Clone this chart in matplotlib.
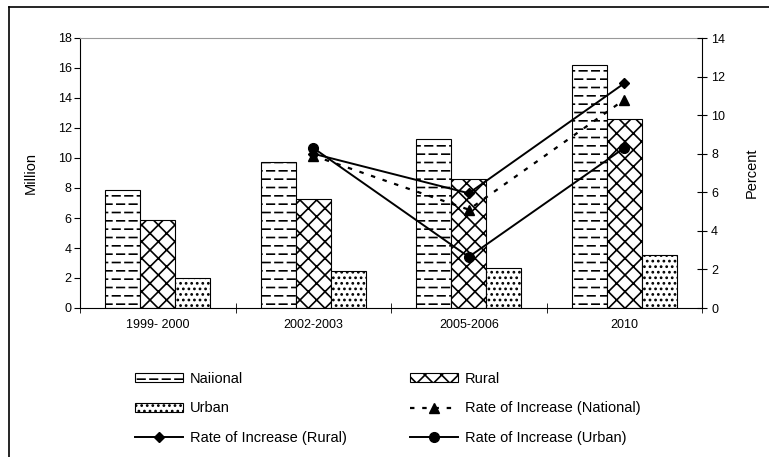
import numpy as np
import matplotlib
matplotlib.use('Agg')
import matplotlib.pyplot as plt
from matplotlib import hatch as mhatch
from matplotlib.path import Path
from matplotlib.lines import Line2D

plt.rcParams['font.family'] = ['Liberation Sans', 'DejaVu Sans']
plt.rcParams['font.size'] = 9
plt.rcParams['hatch.linewidth'] = 1.2


class DashHatch(mhatch.HatchPatternBase):
    """staggered short horizontal dashes, used for '-'"""
    def __init__(self, hatch, density):
        n = hatch.count('-')
        self.rows = 12 if n else 0
        self.cols = 8
        self.num_vertices = self.rows * self.cols * 2

    def set_vertices_and_codes(self, vertices, codes):
        k = 0
        for i in range(self.rows):
            y = (i + 0.5) / self.rows
            off = 0.0 if i % 2 == 0 else 0.35
            for j in range(self.cols):
                x0 = (j + off) / self.cols
                vertices[k] = (x0, y)
                vertices[k + 1] = (x0 + 0.6 / self.cols, y)
                codes[k] = Path.MOVETO
                codes[k + 1] = Path.LINETO
                k += 2


mhatch._hatch_types[0] = DashHatch

# data
categories = ['1999- 2000', '2002-2003', '2005-2006', '2010']
national = [7.9, 9.75, 11.3, 16.2]
rural = [5.85, 7.3, 8.6, 12.6]
urban = [2.0, 2.5, 2.7, 3.55]

rate_national = [7.9, 5.1, 10.8]
rate_rural = [8.0, 5.95, 11.65]
rate_urban = [8.3, 2.65, 8.3]

fig = plt.figure(figsize=(7.69, 4.57), dpi=100)
ax = fig.add_axes([80/769, 1-308/457, 622/769, 270/457])

x = np.arange(len(categories))
w = 0.225
b1 = ax.bar(x - w, national, w, color='white', edgecolor='black', hatch='-', linewidth=0.8, label='Naiional')
b2 = ax.bar(x, rural, w, color='white', edgecolor='black', hatch='xx', linewidth=0.8, label='Rural')
b3 = ax.bar(x + w, urban, w, color='white', edgecolor='black', hatch='...', linewidth=0.8, label='Urban')

ax.set_xlim(-0.5, len(categories) - 0.5)
ax.set_ylim(0, 18)
ax.set_yticks(np.arange(0, 19, 2))
ax.set_xticks(x)
ax.set_xticklabels(categories)
ax.set_xticks(np.arange(-0.5, len(categories), 1), minor=True)
ax.tick_params(axis='x', which='major', length=0, pad=8)
ax.tick_params(axis='x', which='minor', length=7, direction='inout')
ax.tick_params(axis='y', length=4, direction='out', pad=2)
ax.set_ylabel('Million', fontsize=10.5, labelpad=14)
ax.spines['top'].set_color('#999999')
ax.spines['right'].set_visible(False)

ax2 = ax.twinx()
ax2.set_ylim(0, 14)
ax2.set_yticks(np.arange(0, 15, 2))
ax2.tick_params(axis='y', length=7, direction='inout', pad=3)
ax2.set_ylabel('Percent', fontsize=10.5, labelpad=14)
for s in ['top', 'left', 'bottom']:
    ax2.spines[s].set_visible(False)

xr = x[1:]
l1, = ax2.plot(xr, rate_national, color='black', linestyle=(0, (2.0, 3.5)), linewidth=1.6,
               marker='^', markersize=7, label='Rate of Increase (National)')
l2, = ax2.plot(xr, rate_rural, color='black', linewidth=1.4, marker='D', markersize=5.5,
               label='Rate of Increase (Rural)')
l3, = ax2.plot(xr, rate_urban, color='black', linewidth=1.4, marker='o', markersize=7,
               label='Rate of Increase (Urban)')

# legend: two single-column legends
leg_kw = dict(loc='upper left', frameon=False, fontsize=10.5, handlelength=3.3,
              handleheight=0.55, handletextpad=0.45, labelspacing=1.05,
              borderpad=0, borderaxespad=0)
legA = fig.legend([b1, b3, l2], [b1.get_label(), b3.get_label(), l2.get_label()],
                  bbox_to_anchor=(135/769, 1-372/457), **leg_kw)
legB = fig.legend([b2, l1, l3], [b2.get_label(), l1.get_label(), l3.get_label()],
                  bbox_to_anchor=(410/769, 1-372/457), **leg_kw)

# outer border (left and top edges only visible)
fig.add_artist(Line2D([9/769, 9/769], [0, 1-7/457], transform=fig.transFigure, color='black', linewidth=1.2))
fig.add_artist(Line2D([9/769, 1], [1-7/457, 1-7/457], transform=fig.transFigure, color='black', linewidth=1.2))

fig.savefig('out.png', dpi=100, facecolor='white')
